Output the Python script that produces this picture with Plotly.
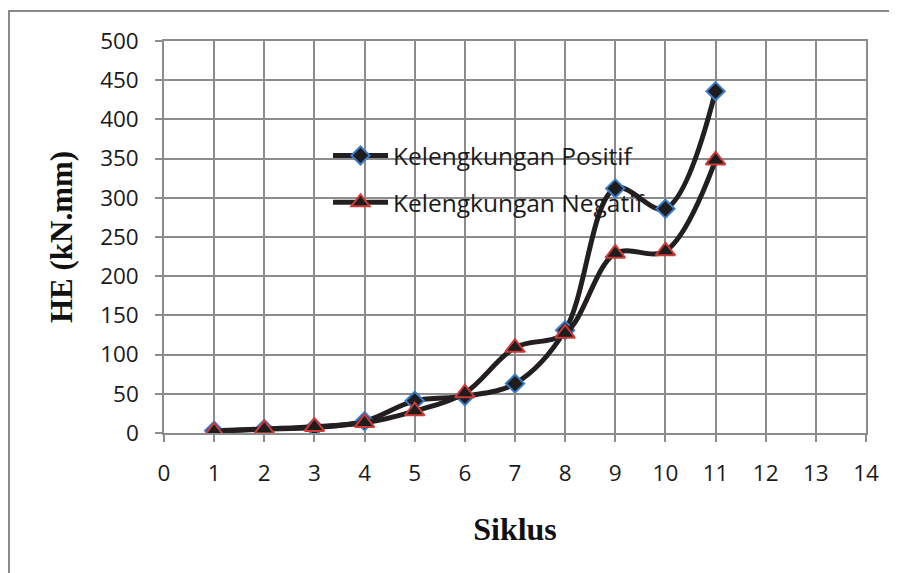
import plotly.graph_objects as go

siklus = [1, 2, 3, 4, 5, 6, 7, 8, 9, 10, 11]
positif = [3, 5, 7, 15, 41, 47, 63, 131, 312, 286, 436]
negatif = [2, 5, 8, 13, 28, 51, 109, 127, 229, 232, 348]
x_ticks = list(range(0, 15))
y_ticks = list(range(0, 501, 50))

GRID = "#8c8c8c"
FONT = "Open Sans"

fig = go.Figure()
fig.add_trace(go.Scatter(
    x=siklus, y=positif, name="Kelengkungan Positif", mode="lines+markers",
    legendgroup="a",
    line=dict(color="#231f20", width=5, shape="spline", smoothing=1),
    marker=dict(symbol="diamond", size=14, color="#1e1c1c",
                line=dict(color="#3a7bc8", width=2)),
))
fig.add_trace(go.Scatter(
    x=siklus, y=negatif, name="Kelengkungan Negatif", mode="lines+markers",
    legendgroup="b",
    line=dict(color="#231f20", width=5, shape="spline", smoothing=1),
    marker=dict(symbol="triangle-up", size=17, color="#1e1c1c",
                line=dict(color="#cc3b37", width=2)),
))

# page has an 8px body margin; figure origin is at (8, 8)
OFF = 8
W, H = 889, 565
L, T = 164 - OFF, 41 - OFF
R = W - (866 - OFF)
B = H - (433 - OFF)
pw, ph = W - L - R, H - T - B

def px(x):
    return (x - OFF - L) / pw

def py(y):
    return (H - B - (y - OFF)) / ph

fig.add_shape(type="rect", xref="paper", yref="paper",
              x0=px(9), x1=px(905), y0=py(11), y1=py(590),
              line=dict(color="#8a8a8a", width=2), fillcolor="rgba(0,0,0,0)",
              layer="below")

fig.update_layout(
    width=W, height=H,
    margin=dict(l=L, r=R, t=T, b=B),
    paper_bgcolor="white", plot_bgcolor="white",
    font=dict(family=FONT, size=22.5, color="#1a1a1a"),
    showlegend=True,
    legend=dict(x=px(328), y=py(133), xanchor="left", yanchor="top",
                bgcolor="rgba(0,0,0,0)", itemwidth=55,
                traceorder="grouped", tracegroupgap=12,
                font=dict(family=FONT, size=24.5, color="#1a1a1a")),
    xaxis=dict(range=[0, 14], tickvals=x_ticks, ticktext=[str(v) for v in x_ticks],
               showgrid=True, gridcolor=GRID, gridwidth=1.5,
               showline=True, linecolor=GRID, linewidth=1.5, mirror=True,
               ticks="outside", ticklen=7, tickcolor=GRID, tickwidth=1.5,
               ticklabelstandoff=12,
               zeroline=False, fixedrange=True,
               title=dict(text="<b>Siklus</b>", standoff=31,
                          font=dict(family="Liberation Serif", size=32, color="#111111"))),
    yaxis=dict(range=[0, 500], tickvals=y_ticks, ticktext=[str(v) for v in y_ticks],
               showgrid=True, gridcolor=GRID, gridwidth=1.5,
               showline=True, linecolor=GRID, linewidth=1.5, mirror=True,
               ticks="outside", ticklen=7, tickcolor=GRID, tickwidth=1.5,
               ticklabelstandoff=12,
               zeroline=False, fixedrange=True,
               title=dict(text="<b>HE (kN.mm)</b>", standoff=18,
                          font=dict(family="Liberation Serif", size=31, color="#111111"))),
)

fig.write_html("out.html")
